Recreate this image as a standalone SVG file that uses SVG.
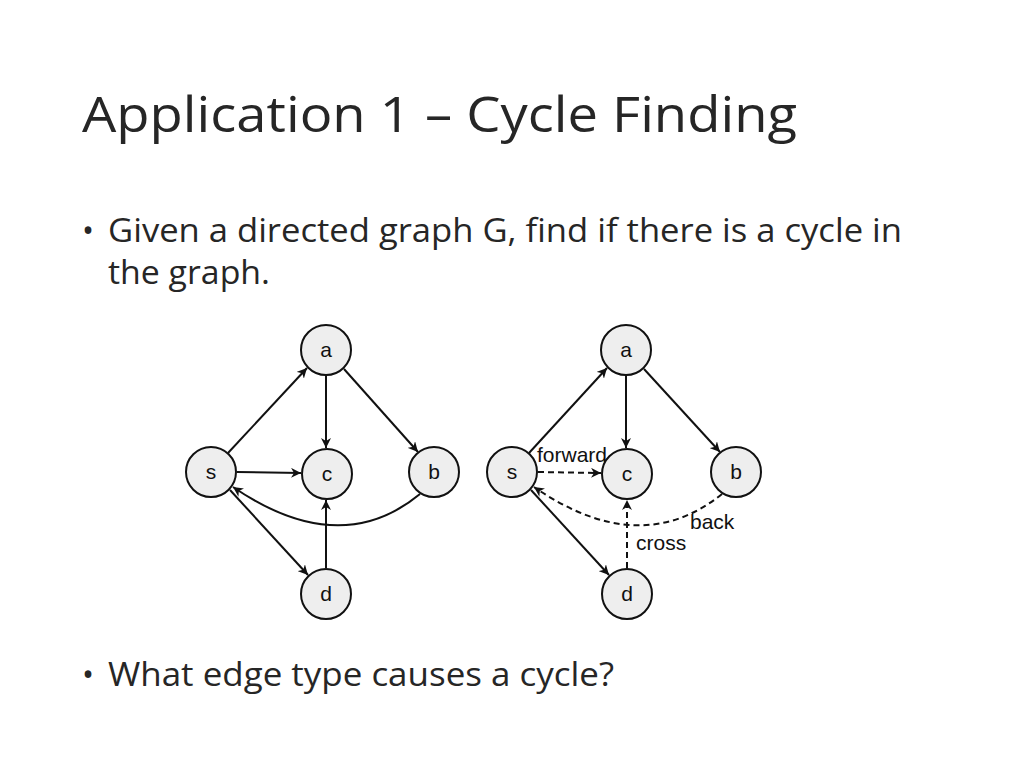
<svg xmlns="http://www.w3.org/2000/svg" width="1024" height="768" viewBox="0 0 1024 768">
<defs>
<marker id="ah" viewBox="0 0 10 10" refX="10" refY="5" markerWidth="10" markerHeight="10" markerUnits="userSpaceOnUse" orient="auto"><path d="M0,0 L10,5 L0,10 L3,5 z" fill="#111"/></marker>
</defs>
<style>
.t{font-family:"Open Sans","Liberation Sans",sans-serif;fill:#262626}
.n circle{fill:#eee;stroke:#111;stroke-width:2}
.n text{font-family:"Liberation Sans",Arial,sans-serif;font-size:21px;text-anchor:middle;fill:#111}
.e{stroke:#111;stroke-width:2;fill:none;marker-end:url(#ah)}
.d{stroke-dasharray:6,4}
.l{font-family:"Liberation Sans",Arial,sans-serif;font-size:21px;fill:#111}
</style>
<rect width="1024" height="768" fill="#fff"/>
<text class="t" x="82" y="132" font-size="50" textLength="715" lengthAdjust="spacingAndGlyphs">Application 1 – Cycle Finding</text>
<text class="t" x="82" y="242" font-size="32">•</text>
<text class="t" x="108" y="242" font-size="32" textLength="794" lengthAdjust="spacingAndGlyphs">Given a directed graph G, find if there is a cycle in</text>
<text class="t" x="108" y="284" font-size="32" textLength="162" lengthAdjust="spacingAndGlyphs">the graph.</text>
<text class="t" x="82" y="686" font-size="32">•</text>
<text class="t" x="108" y="686" font-size="32" textLength="506" lengthAdjust="spacingAndGlyphs">What edge type causes a cycle?</text>
<g id="connectors">
<line class="e" x1="228" y1="453" x2="307" y2="368"/>
<line class="e" x1="326" y1="376" x2="326" y2="448"/>
<line class="e" x1="344" y1="369" x2="418" y2="452"/>
<line class="e" x1="237" y1="472" x2="301" y2="473"/>
<path class="e" d="M420,494 Q340,560 233,487"/>
<line class="e" x1="230" y1="490" x2="308" y2="575"/>
<line class="e" x1="326" y1="568" x2="326" y2="500"/>
<line class="e" x1="529" y1="453" x2="607" y2="368"/>
<line class="e" x1="626" y1="376" x2="626" y2="448"/>
<line class="e" x1="644" y1="369" x2="720" y2="452"/>
<line class="e d" x1="538" y1="472" x2="601" y2="473"/>
<path class="e d" d="M722,494 Q640,560 534,487"/>
<line class="e" x1="531" y1="490" x2="609" y2="575"/>
<line class="e d" x1="627" y1="568" x2="627" y2="500"/>
</g>
<text class="l" x="537" y="462">forward</text>
<text class="l" x="690" y="529">back</text>
<text class="l" x="636" y="550">cross</text>
<g id="L_a" class="n"><circle cx="326" cy="350" r="25"/><text x="326" y="357">a</text></g>
<g id="L_s" class="n"><circle cx="211" cy="472" r="25"/><text x="211" y="479">s</text></g>
<g id="L_c" class="n"><circle cx="327" cy="474" r="25"/><text x="327" y="481">c</text></g>
<g id="L_b" class="n"><circle cx="434" cy="472" r="25"/><text x="434" y="479">b</text></g>
<g id="L_d" class="n"><circle cx="326" cy="594" r="25"/><text x="326" y="601">d</text></g>
<g id="R_a" class="n"><circle cx="626" cy="350" r="25"/><text x="626" y="357">a</text></g>
<g id="R_s" class="n"><circle cx="512" cy="472" r="25"/><text x="512" y="479">s</text></g>
<g id="R_c" class="n"><circle cx="627" cy="474" r="25"/><text x="627" y="481">c</text></g>
<g id="R_b" class="n"><circle cx="736" cy="472" r="25"/><text x="736" y="479">b</text></g>
<g id="R_d" class="n"><circle cx="627" cy="594" r="25"/><text x="627" y="601">d</text></g>
</svg>
